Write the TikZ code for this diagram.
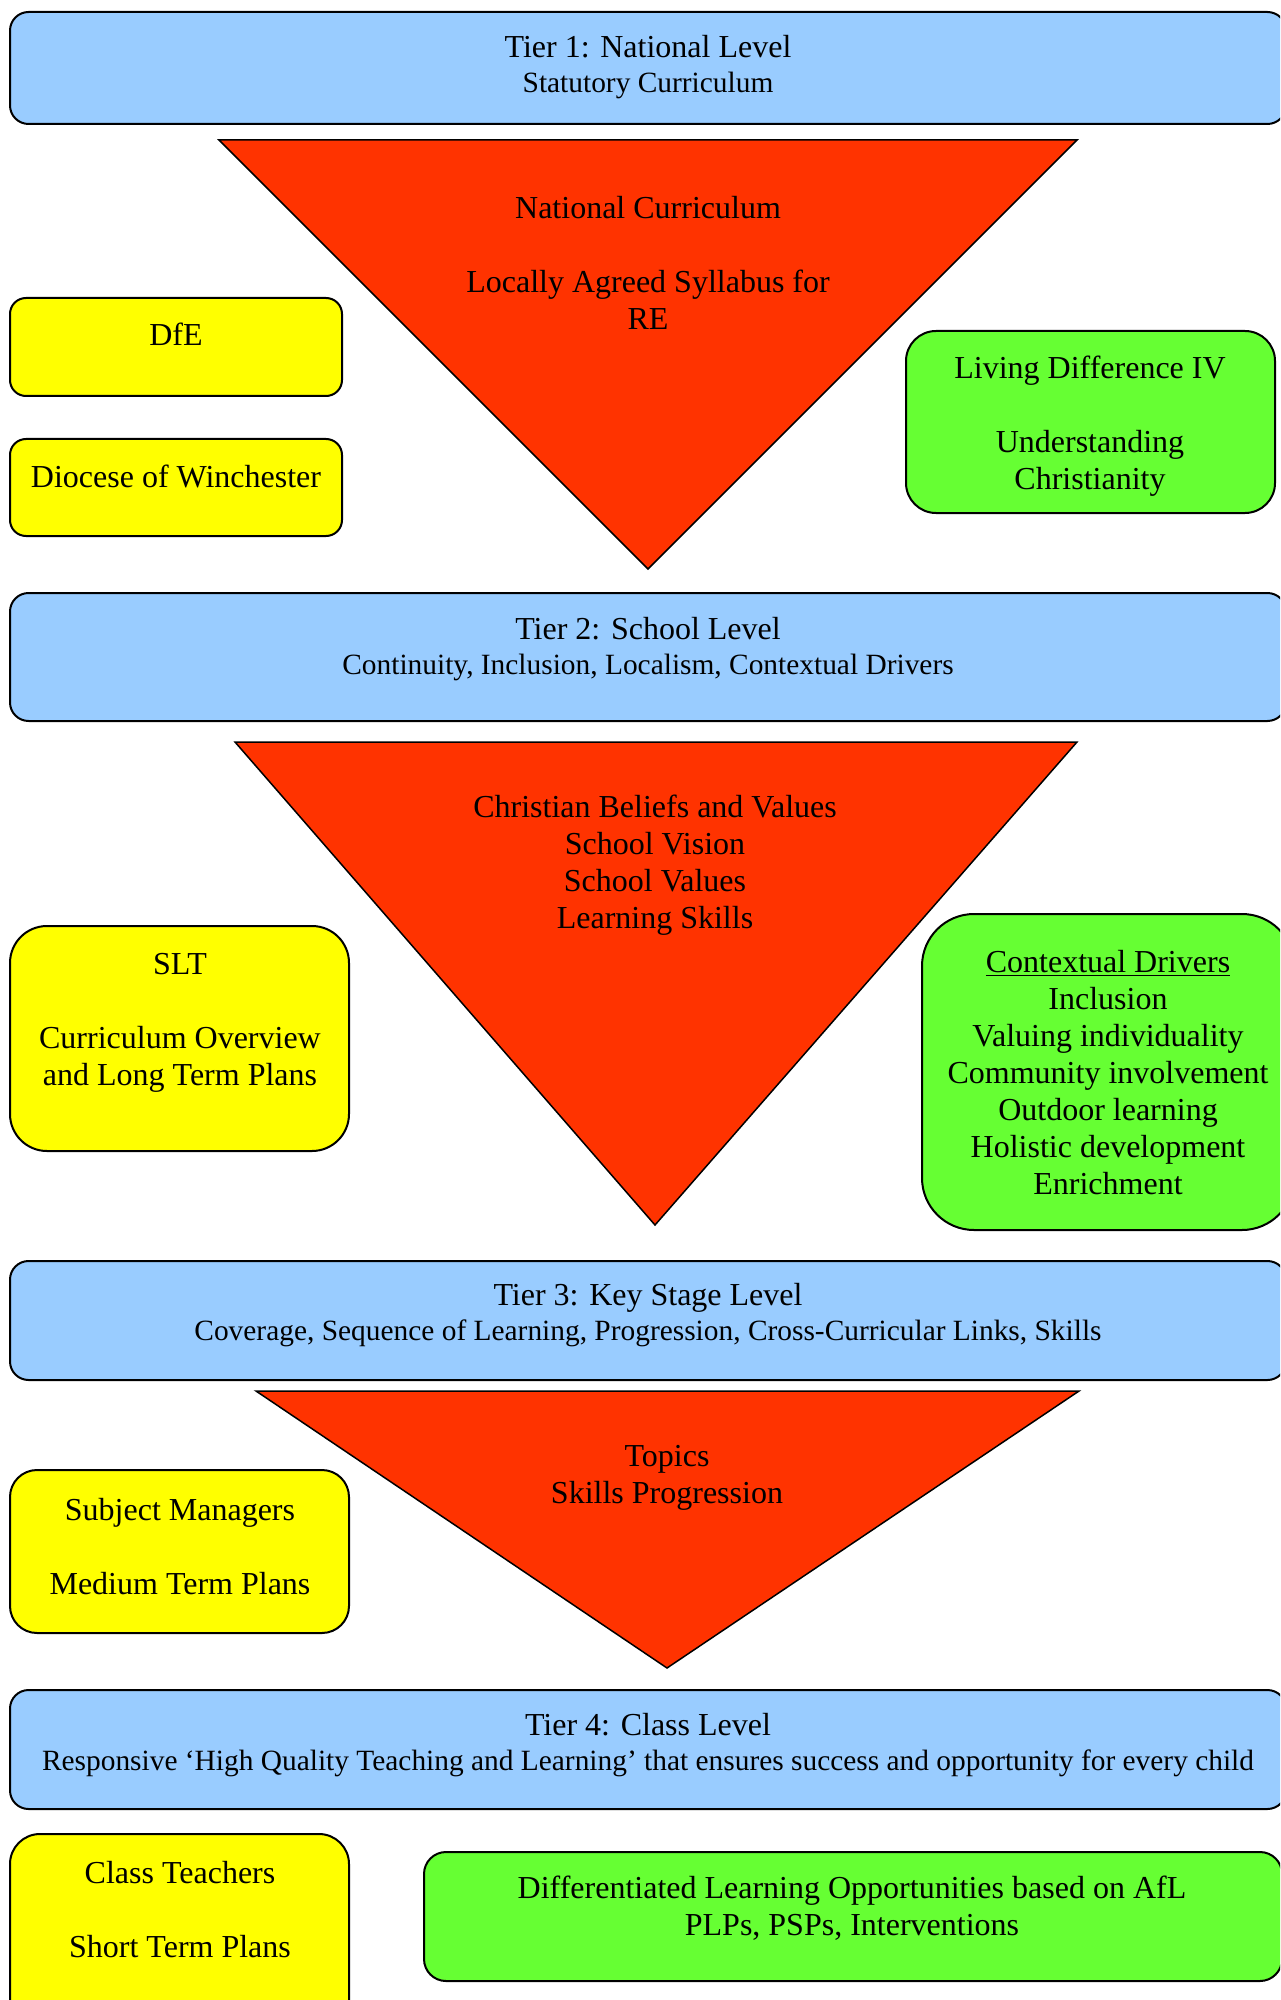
\documentclass[tikz,border=0pt]{standalone}
\usepackage{fontspec}
\setmainfont{Liberation Serif}
\definecolor{tierblue}{RGB}{153,204,255}
\definecolor{wedgered}{RGB}{255,51,0}
\definecolor{bodyyellow}{RGB}{255,255,0}
\definecolor{linkgreen}{RGB}{102,255,51}
\newcommand{\subtxt}{\fontsize{14.7}{17.5}\selectfont}
\tikzset{
  tier/.style={draw, fill=tierblue, line width=1pt, rounded corners=9.3pt},
  who/.style={draw, fill=bodyyellow, line width=1pt},
  extra/.style={draw, fill=linkgreen, line width=1pt},
  wedgefill/.style={draw, fill=wedgered, line width=0.75pt},
  txt/.style={align=center, inner sep=0pt, yshift=-1.6pt, font=\fontsize{16}{18.5}\selectfont},
  tiertxt/.style={align=center, inner sep=0pt, yshift=-1.6pt, font=\fontsize{16}{17.5}\selectfont}
}
\begin{document}
\begin{tikzpicture}[x=0.5pt,y=-0.5pt]
\useasboundingbox (0,0) rectangle (1280,2000);
\clip (0,0) rectangle (1280,2000);
% tier 1
\draw[tier](10,12) rectangle (1286,124);
\node[tiertxt] (tier1) at (648,64) {Tier 1: National Level\\{\subtxt Statutory Curriculum}};
\draw[wedgefill](219,140) -- (1077,140) -- (648,569) -- cycle;
\node[txt] (national) at (648,260) {National Curriculum\\[18.5pt]Locally Agreed Syllabus for\\RE};
\draw[who, rounded corners=8pt](10,298) rectangle (342,396);
\node[txt] (dfe) at (176,331) {DfE};
\draw[who, rounded corners=8pt](10,439) rectangle (342,536);
\node[txt] (diocese) at (176,473) {Diocese of Winchester};
\draw[extra, rounded corners=15pt](906,331) rectangle (1275,513);
\node[txt] (living) at (1090,423) {Living Difference IV\\[18.5pt]Understanding\\Christianity};
% tier 2
\draw[tier](10,593) rectangle (1286,721);
\node[tiertxt] (tier2) at (648,646) {Tier 2: School Level\\{\subtxt Continuity, Inclusion, Localism, Contextual Drivers}};
\draw[wedgefill](235,742) -- (1077,742) -- (655,1225) -- cycle;
\node[txt] (vision) at (655,862) {Christian Beliefs and Values\\School Vision\\School Values\\Learning Skills};
\draw[who, rounded corners=18.5pt](10,926) rectangle (349,1151);
\node[txt] (slt) at (180,1020) {SLT\\[18.5pt]Curriculum Overview\\and Long Term Plans};
\draw[extra, rounded corners=26pt](922,914) rectangle (1294,1230);
\node[txt] (drivers) at (1108,1069) {\underline{Contextual Drivers}\\Inclusion\\Valuing individuality\\Community involvement\\Outdoor learning\\Holistic development\\Enrichment};
% tier 3
\draw[tier](10,1261) rectangle (1286,1380);
\node[tiertxt] (tier3) at (648,1312) {Tier 3: Key Stage Level\\{\subtxt Coverage, Sequence of Learning, Progression, Cross-Curricular Links, Skills}};
\draw[wedgefill](256,1391) -- (1079,1391) -- (667,1668) -- cycle;
\node[txt] (topics) at (667,1475) {Topics\\Skills Progression};
\draw[who, rounded corners=13.5pt](10,1470) rectangle (349,1633);
\node[txt] (subject) at (180,1543) {Subject Managers\\[18.5pt]Medium Term Plans};
% tier 4
\draw[tier](10,1690) rectangle (1286,1809);
\node[tiertxt] (tier4) at (648,1742) {Tier 4: Class Level\\{\subtxt Responsive ‘High Quality Teaching and Learning’ that ensures success and opportunity for every child}};
\draw[who, rounded corners=15pt](10,1834) rectangle (349,2030);
\node[txt] (teachers) at (180,1906) {Class Teachers\\[18.5pt]Short Term Plans};
\draw[extra, rounded corners=11pt](424,1852) rectangle (1282,1981);
\node[txt] (afl) at (852,1905) {Differentiated Learning Opportunities based on AfL\\PLPs, PSPs, Interventions};
\end{tikzpicture}
\end{document}
